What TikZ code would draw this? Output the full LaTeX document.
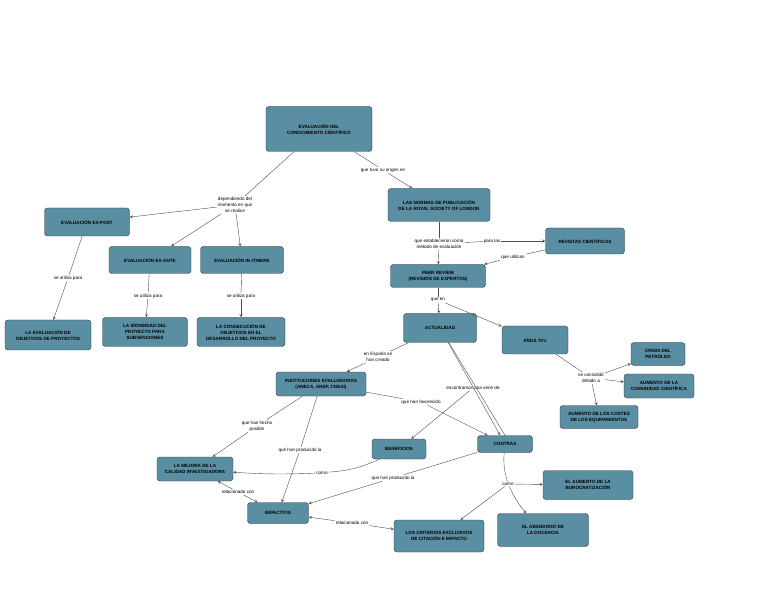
\documentclass[tikz,border=0pt]{standalone}
\usepackage{fontspec}
\setmainfont{Liberation Sans}
\usetikzlibrary{positioning}
\definecolor{boxcolor}{RGB}{90,143,163}
\begin{document}
\begin{tikzpicture}[x=1pt,y=-1pt]
\tikzstyle{concept}=[draw=black!80,fill=boxcolor,rounded corners=3pt,align=center,font=\fontsize{4.6}{6}\selectfont\bfseries,inner sep=1pt]
\tikzstyle{link}=[align=center,font=\fontsize{4.6}{6}\selectfont,inner sep=1pt]
\tikzstyle{connection}=[draw=black!70,thin]
\tikzstyle{arrow}=[connection,->,>=stealth]
\useasboundingbox (0,0) rectangle (768,593);
%%%%%%%%%%%%%%%%%%%%%%%%%%%%%%%%%%%%%%%%%%%%%%%%%%%%%%%%%%%%%%%%%%%%%%%%%%%%%%%%%%%%%%%%
%% Draw Concepts
%%%%%%%%%%%%%%%%%%%%%%%%%%%%%%%%%%%%%%%%%%%%%%%%%%%%%%%%%%%%%%%%%%%%%%%%%%%%%%%%%%%%%%%%
\node[concept,minimum width=106,minimum height=45] (root) at (319,129) {EVALUACIÓN DEL\\CONOCIMIENTO CIENTÍFICO};
\node[concept,minimum width=85,minimum height=28] (expost) at (87,222) {EVALUACIÓN EX-POST};
\node[concept,minimum width=82,minimum height=27] (exante) at (150,260) {EVALUACIÓN EX-ANTE};
\node[concept,minimum width=83,minimum height=27] (itinere) at (242,260) {EVALUACIÓN IN ITINERE};
\node[concept,minimum width=86,minimum height=30] (evalobj) at (48,335) {LA EVALUACIÓN DE\\OBJETIVOS DE PROYECTOS};
\node[concept,minimum width=85,minimum height=29] (idoneidad) at (145,332) {LA IDONEIDAD DEL\\PROYECTO PARA\\SUBVENCIONES};
\node[concept,minimum width=88,minimum height=29] (consecucion) at (241,332) {LA CONSECUCIÓN DE\\OBJETIVOS EN EL\\DESARROLLO DEL PROYECTO};
\node[concept,minimum width=102,minimum height=33] (royal) at (439,205) {LAS NORMAS DE PUBLICACIÓN\\DE LA ROYAL SOCIETY OF LONDON};
\node[concept,minimum width=79,minimum height=26] (revistas) at (585,241) {REVISTAS CIENTÍFICAS};
\node[concept,minimum width=95,minimum height=23] (peer) at (438,276) {PEER REVIEW\\(REVISIÓN DE EXPERTOS)};
\node[concept,minimum width=73,minimum height=29] (actual) at (440,328) {ACTUALIDAD};
\node[concept,minimum width=66,minimum height=28] (anos) at (535,340) {AÑOS 70's};
\node[concept,minimum width=54,minimum height=23] (crisis) at (658,354) {CRISIS DEL\\PETRÓLEO};
\node[concept,minimum width=70,minimum height=24] (aumcom) at (659,386) {AUMENTO DE LA\\COMUNIDAD CIENTÍFICA};
\node[concept,minimum width=78,minimum height=23] (costes) at (599,417) {AUMENTO DE LOS COSTES\\DE LOS EQUIPAMIENTOS};
\node[concept,minimum width=90,minimum height=24] (inst) at (321,384) {INSTITUCIONES EVALUADORAS\\(ANECA, ANEP, CNEAI)};
\node[concept,minimum width=54,minimum height=20] (benef) at (399,449) {BENEFICIOS};
\node[concept,minimum width=55,minimum height=17] (contras) at (505,444) {CONTRAS};
\node[concept,minimum width=76,minimum height=24] (mejora) at (195,469) {LA MEJORA DE LA\\CALIDAD INVESTIGADORA};
\node[concept,minimum width=61,minimum height=21] (impact) at (278,513) {IMPACTITIS};
\node[concept,minimum width=90,minimum height=32] (criterios) at (439,536) {LOS CRITERIOS EXCLUSIVOS\\DE CITACIÓN E IMPACTO};
\node[concept,minimum width=90,minimum height=29] (buro) at (588,485) {EL AUMENTO DE LA\\BUROCRATIZACIÓN};
\node[concept,minimum width=91,minimum height=33] (abandono) at (543,530) {EL ABANDONO DE\\LA DOCENCIA};
%%%%%%%%%%%%%%%%%%%%%%%%%%%%%%%%%%%%%%%%%%%%%%%%%%%%%%%%%%%%%%%%%%%%%%%%%%%%%%%%%%%%%%%%
%% Linking phrases
%%%%%%%%%%%%%%%%%%%%%%%%%%%%%%%%%%%%%%%%%%%%%%%%%%%%%%%%%%%%%%%%%%%%%%%%%%%%%%%%%%%%%%%%
\node[link] (momento) at (235,205) {dependiendo del\\momento en que\\se realice};
\node[link] (origen) at (383,170) {que tuvo su origen en};
\node[link] (util1) at (68,278) {se utiliza para};
\node[link] (util2) at (148,296) {se utiliza para};
\node[link] (util3) at (241,296) {se utiliza para};
\node[link] (metodo) at (439,244) {que establecieron como\\método de evaluación};
\node[link] (parālas) at (492,241) {para las};
\node[link] (utilizan) at (513,257) {que utilizan};
\node[link] (queen) at (438,300) {que en};
\node[link] (espana) at (378,357) {en España se\\han creado};
\node[link] (serie) at (473,388) {encontramos una serie de};
\node[link] (favorecido) at (421,402) {que han favorecido};
\node[link] (posible) at (257,426) {que han hecho\\posible};
\node[link] (producido1) at (300,450) {que han producido la};
\node[link] (como1) at (322,473) {como};
\node[link] (producido2) at (393,478) {que han producido la};
\node[link] (relac1) at (238,492) {relacionado con};
\node[link] (relac2) at (352,523) {relacionado con};
\node[link] (como2) at (508,484) {como};
\node[link] (debido) at (591,378) {se consolidó\\debido a};
%%%%%%%%%%%%%%%%%%%%%%%%%%%%%%%%%%%%%%%%%%%%%%%%%%%%%%%%%%%%%%%%%%%%%%%%%%%%%%%%%%%%%%%%
%% Draw connections
%%%%%%%%%%%%%%%%%%%%%%%%%%%%%%%%%%%%%%%%%%%%%%%%%%%%%%%%%%%%%%%%%%%%%%%%%%%%%%%%%%%%%%%%
\draw[connection] (root) -- (momento);
\draw[arrow] (momento) -- (expost);
\draw[arrow] (momento) -- (exante);
\draw[arrow] (momento) -- (itinere);
\draw[connection] (root) -- (origen);
\draw[arrow] (origen) -- (royal);
\draw[connection] (expost) -- (util1);
\draw[arrow] (util1) -- (evalobj);
\draw[connection] (exante) -- (util2);
\draw[arrow] (util2) -- (idoneidad);
\draw[connection] (itinere) -- (util3);
\draw[arrow] (util3) -- (consecucion);
\draw[connection] (royal) -- (metodo);
\draw[arrow] (metodo) -- (peer);
\draw[connection] (metodo) -- (parālas);
\draw[arrow] (parālas) -- (revistas);
\draw[connection] (revistas) -- (utilizan);
\draw[arrow] (utilizan) -- (peer);
\draw[connection] (peer) -- (queen);
\draw[arrow] (queen) -- (actual);
\draw[arrow] (queen) -- (anos);
\draw[connection] (actual) -- (espana);
\draw[arrow] (espana) -- (inst);
\draw[connection] (actual) -- (contras.north);
\draw[arrow] (serie) -- (benef);
\draw[arrow] (actual) -- (contras);
\draw[connection] (inst) -- (favorecido);
\draw[arrow] (favorecido) -- (contras);
\draw[connection] (inst) -- (posible);
\draw[arrow] (posible) -- (mejora);
\draw[connection] (inst) -- (producido1);
\draw[arrow] (producido1) -- (impact);
\draw[connection] (benef) to[bend left=10] (como1);
\draw[arrow] (como1) to[bend left=3] (mejora);
\draw[connection] (contras) -- (producido2);
\draw[arrow] (producido2) -- (impact);
\draw[arrow] (relac1) -- (mejora);
\draw[arrow] (relac1) -- (impact);
\draw[arrow] (relac2) -- (impact);
\draw[arrow] (relac2) -- (criterios);
\draw[connection] (contras) to[bend right=10] (como2);
\draw[arrow] (como2) -- (buro);
\draw[arrow] (como2) -- (criterios);
\draw[arrow] (como2) to[bend right=8] (abandono);
\draw[connection] (anos) -- (debido);
\draw[arrow] (debido) -- (crisis);
\draw[arrow] (debido) -- (aumcom);
\draw[arrow] (debido) -- (costes);
%%%%%%%%%%%%%%%%%%%%%%%%%%%%%%%%%%%%%%%%%%%%%%%%%%%%%%%%%%%%%%%%%%%%%%%%%%%%%%%%%%%%%%%%
\end{tikzpicture}
\end{document}
